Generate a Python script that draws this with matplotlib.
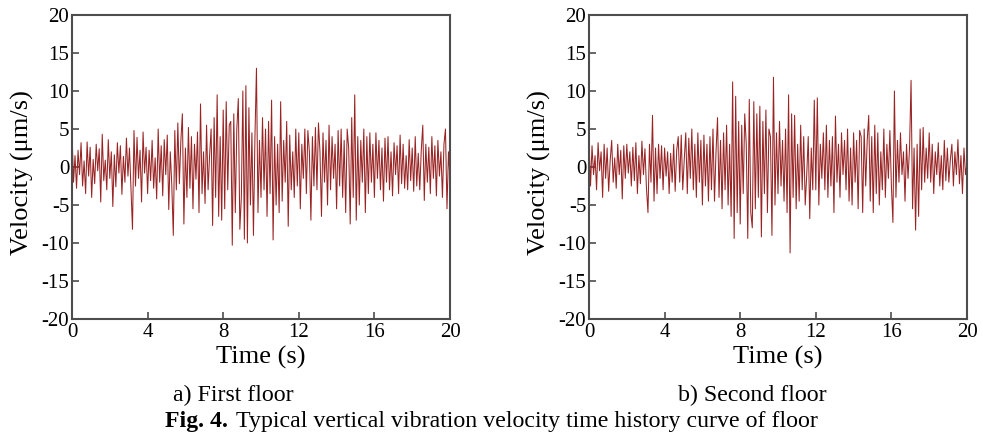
import numpy as np
import matplotlib
matplotlib.use("Agg")
import matplotlib.pyplot as plt

plt.rcParams['font.family'] = ['Liberation Serif', 'DejaVu Serif']

dt = 0.08
x_ticks = [0, 4, 8, 12, 16, 20]
y_ticks = [-20, -15, -10, -5, 0, 5, 10, 15, 20]

# First floor velocity (um/s), sampled every 0.08 s from 0 to 20 s
v_first = [
    4.5, -2.0, 1.5, -2.8, 2.2, -1.0, 3.2, -2.5, 0.8, -3.5,
    3.3, -1.2, 2.6, -4.0, 1.0, -2.2, 3.0, -0.5, 2.4, -4.6,
    4.3, -1.8, 0.9, -3.0, 3.6, -1.5, 2.0, -5.2, 1.6, -2.6,
    3.2, -0.8, 2.8, -3.6, 1.4, -2.0, 3.8, -1.2, 2.5, -3.0,
    -8.2, 4.8, -2.5, 3.9, -1.5, 2.2, -4.6, 4.6, -0.8, 2.6,
    -3.5, 2.2, -1.8, 3.5, -2.8, 1.2, -4.2, 5.0, -2.0, 2.8,
    -3.8, 3.6, -1.0, 4.2, -5.6, 2.0, -2.4, -9.0, 4.8, -3.0,
    5.8, -2.2, 3.5, 7.0, -7.5, 2.5, -4.0, 5.2, -2.8, 4.0,
    -5.5, 3.0, -1.6, 4.6, -6.0, 8.3, -3.5, 2.0, -4.8, 5.5,
    -3.0, 1.5, 5.0, -7.7, 6.5, -4.0, 9.5, -6.5, 4.0, -7.0,
    7.5, -5.5, 8.6, -3.0, 5.5, 6.0, -10.3, 7.0, -6.0, 5.0,
    9.0, -8.2, -4.0, 10.0, -9.5, 10.7, -10.0, 7.8, -5.0, 4.5,
    -9.0, 4.0, 13.0, -6.0, 3.5, -4.0, 6.5, -3.0, 5.0, -6.5,
    6.0, -3.5, 8.8, -9.6, 4.0, -5.0, 3.0, -6.0, 8.6, -4.5,
    3.5, -2.0, 6.0, -7.8, 4.2, -3.0, 2.0, -4.0, 5.0, -2.5,
    4.5, -5.5, 3.0, -1.5, 5.0, -3.5, 4.8, 2.0, -7.0, 4.0,
    -2.5, 5.2, -3.0, 5.8, 2.0, -6.5, 4.5, -2.0, 3.5, -5.0,
    5.5, -3.0, 4.0, -1.5, 3.0, -5.5, 4.8, -2.5, 5.0, -4.0,
    3.5, -6.0, 5.0, 2.5, -7.5, 6.5, -4.0, 9.5, -7.0, 4.0,
    -5.0, 3.5, -2.0, 5.0, -6.0, 4.0, -3.5, 4.5, -2.0, 3.0,
    -4.0, 4.5, -1.5, 3.5, -3.0, 2.5, -4.5, 3.8, -2.0, 4.0,
    -3.0, 2.0, -3.8, 3.2, -1.0, 2.8, -3.5, 4.2, -2.2, 3.0,
    -2.8, 1.5, -3.0, 3.6, -1.8, 2.5, -3.2, 4.0, -2.5, 1.8,
    -3.0, 2.2, 5.5, -4.4, 3.0, -2.0, 2.6, -3.5, 4.0, -1.5,
    2.8, -3.8, 3.5, -1.2, 2.0, -4.0, 3.0, 5.0, -5.5, 2.0,
    -1.5,
]

# Second floor velocity (um/s), sampled every 0.08 s from 0 to 20 s
v_second = [
    3.5, -2.5, 2.8, -1.0, 1.5, -3.0, 3.2, -0.5, 2.0, -4.0,
    3.0, -1.5, 2.5, -3.2, 0.8, 3.5, -2.0, 1.2, -2.8, 3.0,
    -1.0, 2.2, -4.2, 2.8, -1.5, 3.0, -0.8, 2.0, -2.5, 2.6,
    -1.8, 3.2, -3.5, 1.5, -2.2, 3.4, -1.0, 2.4, -2.8, -6.0,
    3.0, -2.0, 6.8, -4.5, 2.5, -3.5, 3.0, -1.5, 2.8, -3.0,
    2.5, -1.2, 2.0, -3.5, 1.8, -2.0, 3.0, -3.2, 2.2, 4.0,
    -2.0, 4.2, -3.0, 1.0, 4.5, -3.5, 3.8, -1.5, 5.0, -3.0,
    3.0, -4.0, 4.5, -2.0, 3.5, -5.0, 4.2, -2.5, 3.0, -4.5,
    4.0, -3.0, 5.0, -4.5, 2.0, 6.5, -4.0, 3.5, -5.5, 4.5,
    -3.0, 5.5, -5.0, 3.0, -6.5, 11.2, -9.4, 9.3, -6.0, 6.0,
    -7.5, 5.5, -3.5, 7.0, 3.0, -9.4, 8.9, -6.0, -8.0, 8.6,
    -5.5, 7.0, -4.0, 8.0, -9.2, 6.0, -3.5, 7.5, -6.0, 5.0,
    4.0, -9.0, 11.8, -5.0, 4.5, -3.5, 6.0, -2.5, 3.5, -4.5,
    5.0, -6.0, 9.5, -11.3, 7.0, -4.0, 6.8, -5.5, 3.0, -4.5,
    5.5, -3.0, 4.0, -5.0, -1.0, 4.0, -6.8, 2.5, -3.0, 8.8,
    -3.0, 9.1, -5.0, 3.0, -1.5, 4.5, -3.0, 5.5, -4.0, 3.5,
    -2.5, 4.0, -6.0, 6.7, -2.0, 3.0, -4.0, 4.5, -1.0, 3.5,
    -3.0, 5.0, -4.5, 2.5, -5.0, 4.5, -2.0, 3.5, -5.5, 4.8,
    4.0, -6.0, 5.0, -2.5, 3.5, 6.8, -4.5, 4.0, -6.0, 5.5,
    -3.5, 4.5, -5.0, 2.0, -3.0, 5.0, -4.0, 3.0, -1.5, 4.8,
    -2.5, -7.3, 10.0, -4.0, 3.5, -2.0, 4.5, -1.0, 2.0, -4.5,
    3.0, -1.5, 2.5, 11.4, -5.5, 2.5, -8.3, 3.0, -6.5, 5.0,
    -3.0, 5.2, -2.0, 2.5, -1.5, 4.5, -2.0, 3.0, -3.5, 2.0,
    -1.0, 3.2, -2.5, 1.5, -3.0, 3.5, -1.8, 2.5, -2.0, 1.0,
    3.0, -2.5, 2.0, -1.0, 3.6, -2.2, 1.5, -3.5, 2.5, -1.0,
    0.5,
]

panel_captions = ["a) First floor", "b) Second floor"]
series = [v_first, v_second]

W, H = 983, 437
fig = plt.figure(figsize=(W / 100, H / 100), dpi=100)

axes_px = [(72, 15, 450, 319), (589, 15, 967, 319)]
caption_x = [233, 752]
line_color = '#9a2424'
spine_color = '#4d4d4d'

for (l, t, r, b), vals, cap, capx in zip(axes_px, series, panel_captions, caption_x):
    ax = fig.add_axes([l / W, 1 - b / H, (r - l) / W, (b - t) / H])
    tt = np.arange(len(vals)) * dt
    ax.plot(tt, vals, color=line_color, lw=0.75)
    ax.set_xlim(0, 20)
    ax.set_ylim(-20, 20)
    ax.set_xticks(x_ticks)
    ax.set_yticks(y_ticks)
    ax.set_xticklabels([str(v) for v in x_ticks])
    ax.set_yticklabels([str(v) for v in y_ticks])
    ax.tick_params(direction='in', length=5, width=1.2, color=spine_color,
                   labelsize=15, top=False, right=False, pad=3)
    ax.tick_params(axis='y', pad=2)
    for s in ax.spines.values():
        s.set_color(spine_color)
        s.set_linewidth(1.5)
    cx = (l + r) / 2
    fig.text(cx / W, 1 - 357 / H, "Time (s)", ha='center', va='center', fontsize=19)
    fig.text((l - 50) / W, 1 - ((t + b) / 2 + 6) / H, "Velocity (μm/s)", rotation=90,
             ha='center', va='center', fontsize=19)
    fig.text(capx / W, 1 - 395 / H, cap, ha='center', va='center', fontsize=17.2)

fig.text(165 / W, 1 - 421 / H, "Fig. 4.", ha='left', va='center', fontsize=17.2, fontweight='bold')
fig.text(236 / W, 1 - 421 / H, "Typical vertical vibration velocity time history curve of floor",
         ha='left', va='center', fontsize=17.2)

fig.savefig("out.png", dpi=100)
